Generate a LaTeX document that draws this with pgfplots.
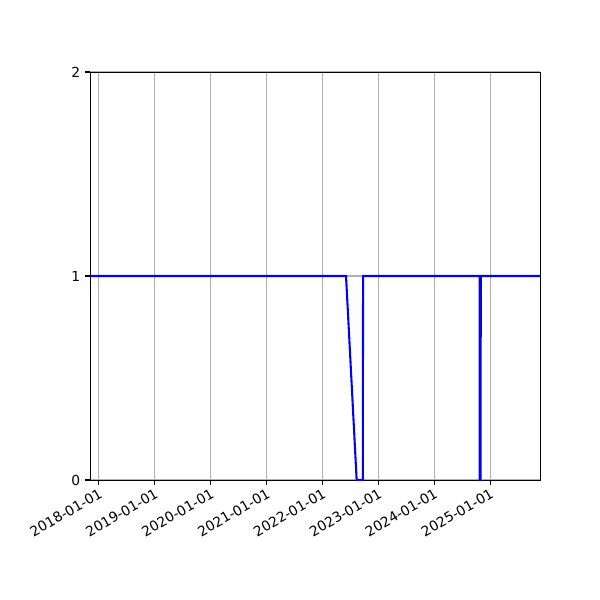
\documentclass[border=0pt]{standalone}
\usepackage{fontspec}
\setmainfont{DejaVu Sans}
\usepackage{pgfplots}
\pgfplotsset{compat=1.18}
\definecolor{gridgray}{HTML}{B0B0B0}
\begin{document}
\begin{tikzpicture}
\path[use as bounding box, fill=white] (-0.9in,-1.2in) rectangle (5.1in,4.8in);
\begin{axis}[
  at={(0,0)}, anchor=south west,
  scale only axis,
  width=4.5in, height=4.08in,
  xmin=2017.84, xmax=2025.89,
  ymin=0, ymax=2,
  xtick={2018,2019,2020,2021,2022,2023,2024,2025},
  xticklabels={2018-01-01,2019-01-01,2020-01-01,2021-01-01,2022-01-01,2023-01-01,2024-01-01,2025-01-01},
  ytick={0,1,2},
  x tick label style={rotate=30, anchor=north east, inner sep=1.5pt},
  tick label style={font=\fontsize{10}{12}\selectfont},
  /pgf/number format/assume math mode=true,
  tick align=outside,
  tickpos=left,
  major tick length=3.5pt,
  every tick/.style={black, line width=0.8pt},
  axis line style={line width=0.7pt},
  grid=major,
  major grid style={gridgray, line width=0.8pt},
  clip=true,
]
\addplot[blue, line width=1.5pt] coordinates {
  (2017.84,1) (2022.42,1) (2022.61,0) (2022.72,0) (2022.725,1)
  (2024.81,1) (2024.812,0) (2024.828,0) (2024.83,1) (2025.89,1)
};
\end{axis}
\end{tikzpicture}
\end{document}
